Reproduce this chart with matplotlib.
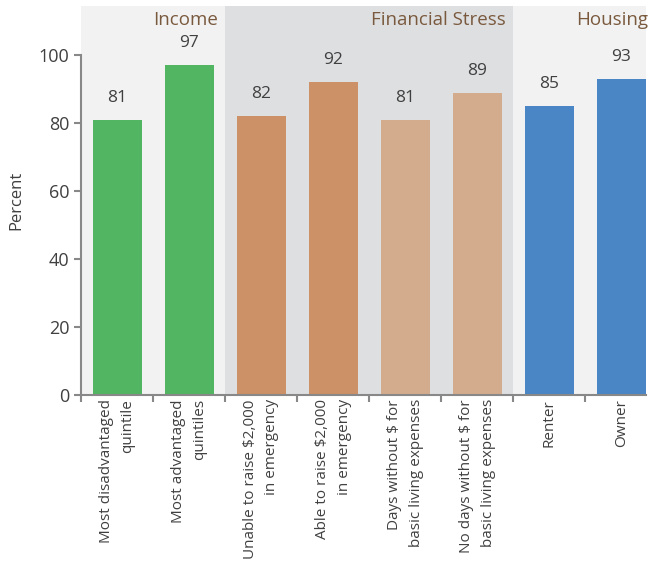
import matplotlib
matplotlib.use("Agg")
import matplotlib.pyplot as plt

plt.rcParams['font.family'] = ['Open Sans', 'DejaVu Sans']

categories = [
    "Most disadvantaged\nquintile",
    "Most advantaged\nquintiles",
    "Unable to raise $2,000\nin emergency",
    "Able to raise $2,000\nin emergency",
    "Days without $ for\nbasic living expenses",
    "No days without $ for\nbasic living expenses",
    "Renter",
    "Owner",
]
values = [81, 97, 82, 92, 81, 89, 85, 93]
bar_colors = ["#52b561", "#52b561", "#cc9166", "#cc9166",
              "#d3ac8d", "#d3ac8d", "#4a86c5", "#4a86c5"]
groups = ["Income", "Financial Stress", "Housing"]
group_spans = [(0, 1), (2, 5), (6, 7)]
group_bg = ["#f2f2f2", "#dedfe1", "#f2f2f2"]
yticks = [0, 20, 40, 60, 80, 100]

fig = plt.figure(figsize=(6.52, 5.70), dpi=100)
ax = fig.add_axes([81/652, (570-395)/570, (646-81)/652, (395-6)/570])

x = list(range(len(categories)))
xmin, xmax = -0.5, 7.34
ymax = 114.5
for (a, b), c, g in zip(group_spans, group_bg, groups):
    lo = max(a - 0.5, xmin)
    hi = min(b + 0.5, xmax)
    ax.axvspan(lo, hi, ymin=0, ymax=1, color=c, zorder=0, lw=0)
    ax.text(hi - 0.1 if g != "Housing" else hi + 0.03, 110.5, g, ha="right", va="center",
            fontsize=13.5, color="#7a5a3e")

ax.bar(x, values, width=0.68, color=bar_colors, zorder=2)
for xi, v in zip(x, values):
    ax.text(xi, v + 6.5, f"{v}", ha="center", va="center", fontsize=12.5, color="#404040")

ax.set_xlim(xmin, xmax)
ax.set_ylim(0, ymax)
ax.set_yticks(yticks)
ax.tick_params(axis="y", labelsize=13, colors="#888888", labelcolor="#404040", width=1.5, length=5)
ax.set_ylabel("Percent", fontsize=12, color="#404040", labelpad=10)

ax.set_xticks([i - 0.5 for i in range(len(categories))])
ax.set_xticklabels([])
ax.set_xticks(x, minor=True)
ax.set_xticklabels(categories, minor=True, rotation=90, ha="center", va="top",
                   multialignment="right", fontsize=11, color="#404040", linespacing=1.6)
ax.tick_params(axis="x", which="major", colors="#888888", width=1.5, length=5)
ax.tick_params(axis="x", which="minor", length=0, pad=3)

for s in ["top", "right"]:
    ax.spines[s].set_visible(False)
ax.spines["left"].set_bounds(0, 100)
for s in ["left", "bottom"]:
    ax.spines[s].set_color("#888888")
    ax.spines[s].set_linewidth(1.5)
ax.patch.set_visible(False)

fig.savefig("out.png", dpi=100)
